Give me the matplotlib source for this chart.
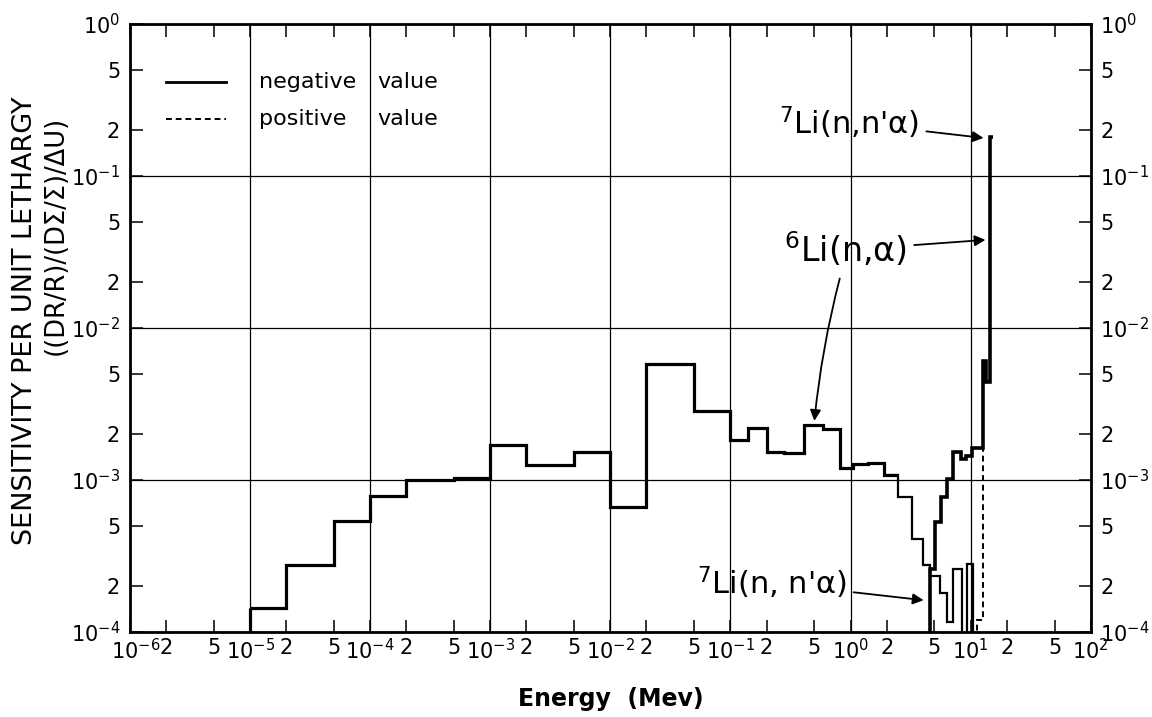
"""
Sensitivity profile per unit lethargy vs neutron energy (log-log step plot),
6Li(n,alpha) and 7Li(n,n'alpha) contributions.
"""
import matplotlib
matplotlib.use("Agg")
import matplotlib.pyplot as plt
from matplotlib.ticker import FixedLocator
from matplotlib.transforms import ScaledTranslation

plt.rcParams["font.family"] = "DejaVu Sans"
plt.rcParams["mathtext.fontset"] = "dejavusans"

# ---------- datos -------------------------------------------------------------
# 6Li(n,a): bordes de grupo (MeV) y sensibilidad (valor negativo, en modulo)
li6_edges = [1e-5, 2e-5, 5e-5, 1e-4, 2e-4, 5e-4, 1e-3, 2e-3, 5e-3, 1e-2, 2e-2,
             5e-2, 0.1, 0.14, 0.2, 0.28, 0.41, 0.59, 0.81, 1.05, 1.4, 1.9, 2.5]
li6_vals = [1.45e-4, 2.75e-4, 5.4e-4, 7.9e-4, 1.0e-3, 1.03e-3, 1.7e-3, 1.25e-3,
            1.53e-3, 6.6e-4, 5.8e-3, 2.85e-3, 1.83e-3, 2.2e-3, 1.53e-3, 1.5e-3,
            2.3e-3, 2.16e-3, 1.2e-3, 1.27e-3, 1.3e-3, 1.08e-3]

# cola de alta energia del 6Li (trazo fino); 1e-6 = fuera de escala
li6_tail_edges = [1.9, 2.5, 3.25, 4.0, 4.6, 5.6, 6.4, 7.2, 8.4, 9.4, 10.4, 11.0]
li6_tail_vals = [1.08e-3, 7.7e-4, 4.1e-4, 2.75e-4, 2.35e-4, 1.8e-4, 1.16e-4,
                 2.6e-4, 1e-6, 2.8e-4, 1e-6]

# 7Li(n,n'a), valor negativo
li7_edges = [4.3, 4.6, 5.1, 5.7, 6.4, 7.2, 8.25, 9.1, 10.2, 12.6, 13.5, 14.5, 15.3]
li7_vals = [1e-6, 2.6e-4, 5.3e-4, 7.7e-4, 1.02e-3, 1.52e-3, 1.37e-3, 1.45e-3,
            1.62e-3, 6.1e-3, 4.4e-3, 0.18]

# valor positivo (trazo discontinuo)
pos_edges = [10.8, 11.3, 12.7, 13.3]
pos_vals = [1e-6, 1.2e-4, 6.0e-3]

x_major = [10.0**k for k in range(-6, 3)]
x_minor = [m * 10.0**k for k in range(-6, 2) for m in (2, 5)]
y_major = [10.0**k for k in range(-4, 1)]
y_minor = [m * 10.0**k for k in range(-4, 0) for m in (2, 5)]

# ---------- figura ------------------------------------------------------------
fig = plt.figure(figsize=(11.52, 7.17), dpi=100)
ax = fig.add_axes([0.1128, 0.1185, 0.834, 0.848])
ax.set_xscale("log")
ax.set_yscale("log")
ax.set_xlim(1e-6, 1e2)
ax.set_ylim(1e-4, 1e0)

ax.stairs(li6_vals, li6_edges, baseline=None, color="black", lw=2.3, zorder=3)
ax.stairs(li6_tail_vals, li6_tail_edges, baseline=None, color="black", lw=1.6, zorder=3)
ax.stairs(li7_vals, li7_edges, baseline=None, color="black", lw=2.6, zorder=4)
ax.stairs(pos_vals, pos_edges, baseline=None, color="black", lw=1.4,
          ls=(0, (3, 2)), zorder=3)
# borde izquierdo del primer grupo
ax.vlines(li6_edges[0], 1e-4, li6_vals[0], color="black", lw=2.3, zorder=3)

# ejes y rejilla
ax.xaxis.set_major_locator(FixedLocator(x_major))
ax.xaxis.set_minor_locator(FixedLocator(x_minor))
ax.yaxis.set_major_locator(FixedLocator(y_major))
ax.yaxis.set_minor_locator(FixedLocator(y_minor))
ax.set_xticklabels([r"$10^{%d}$" % k for k in range(-6, 3)])
ax.set_xticklabels([("2" if i % 2 == 0 else "5") for i in range(len(x_minor))], minor=True)
ax.set_yticklabels([r"$10^{%d}$" % k for k in range(-4, 1)])
ax.set_yticklabels([("2" if i % 2 == 0 else "5") for i in range(len(y_minor))], minor=True)

ax.tick_params(which="both", direction="in", top=True, right=True,
               labelright=True, length=9, width=1.1, labelsize=15, pad=4)
ax.tick_params(axis="y", which="both", pad=7)
ax.grid(which="major", color="black", lw=0.9)
for s in ax.spines.values():
    s.set_linewidth(2.0)

# el primer rotulo (10^-6) algo a la derecha, lejos del 10^-4 vertical
first = ax.xaxis.get_majorticklabels()[0]
first.set_transform(first.get_transform() + ScaledTranslation(4 / 72, 0, fig.dpi_scale_trans))

fig.text(0.53, 0.025, "Energy  (Mev)", fontsize=17, fontweight="bold",
         ha="center", va="center")
fig.text(0.022, 0.553, "SENSITIVITY PER UNIT LETHARGY", rotation=90,
         ha="center", va="center", fontsize=19.5)
fig.text(0.048, 0.671, "((DR/R)/(DΣ/Σ)/ΔU)", rotation=90,
         ha="center", va="center", fontsize=18.5)

# leyenda a mano
ax.plot([0.038, 0.10], [0.905, 0.905], transform=ax.transAxes, color="black", lw=2.0)
ax.plot([0.038, 0.10], [0.844, 0.844], transform=ax.transAxes, color="black",
        lw=1.4, ls=(0, (3, 2)))
for yy, word in [(0.905, "negative"), (0.844, "positive")]:
    ax.text(0.134, yy, word, transform=ax.transAxes, fontsize=16, va="center")
    ax.text(0.257, yy, "value", transform=ax.transAxes, fontsize=16, va="center")

# anotaciones
arrow = dict(arrowstyle="-|>", color="black", lw=1.3, mutation_scale=16,
             shrinkA=3, shrinkB=0)
ax.annotate(r"$^{7}$Li(n,n'α)", xy=(12.8, 0.178), xytext=(3.75, 0.225),
            ha="right", va="center", fontsize=22, arrowprops=arrow)
ax.annotate(r"$^{6}$Li(n,α)", xy=(13.3, 0.038), xytext=(2.97, 0.0326),
            ha="right", va="center", fontsize=24, arrowprops=arrow)
ax.annotate("", xy=(0.5, 2.45e-3), xytext=(0.83, 0.0225),
            arrowprops=dict(arrow, connectionstyle="arc3,rad=0.04"))
ax.annotate(r"$^{7}$Li(n, n'α)", xy=(4.06, 1.62e-4), xytext=(0.93, 2.1e-4),
            ha="right", va="center", fontsize=22, arrowprops=arrow)

fig.savefig("out.png", dpi=100)
